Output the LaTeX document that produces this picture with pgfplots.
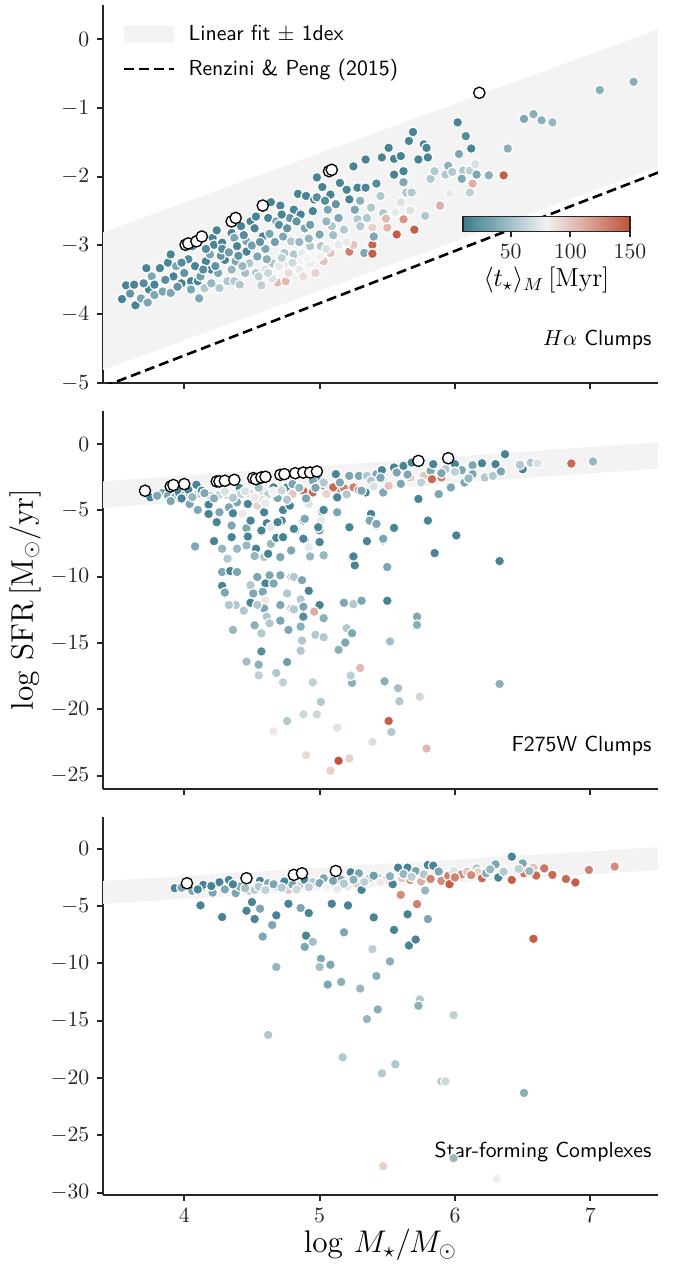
\documentclass[border=0pt]{standalone}
\usepackage{pgfplots}
\pgfplotsset{compat=1.18}
\usetikzlibrary{calc}
\definecolor{axgray}{RGB}{38,38,38}
\definecolor{bandgray}{RGB}{243,243,243}

\tikzset{plabel/.style={anchor=base east, font=\sffamily, inner sep=0pt}}
\pgfplotsset{
  colormap={sbdiv}{rgb255(0cm)=(59,124,142); rgb255(1cm)=(242,242,242); rgb255(2cm)=(193,82,58)},
  panel/.style={
    scale only axis, width=255.3pt, height=174pt,
    xmin=3.4, xmax=7.5,
    axis x line*=bottom, axis y line*=left,
    axis line style={-, line width=0.9pt, draw=axgray},
    tick align=outside, major tick length=2.8pt,
    tick style={line width=0.9pt, draw=axgray},
    tick label style={text=axgray},
    xtick={4,5,6,7},
    colormap name=sbdiv, point meta min=10, point meta max=150,
  },
  pts/.style={scatter, only marks, mark=*, mark size=2.3pt, line width=0.55pt,
    point meta=explicit, scatter/use mapped color={draw=white, fill=mapped color}, forget plot},
  open/.style={only marks, mark=*, mark size=2.6pt,
    mark options={fill=white, draw=black, line width=0.6pt}, forget plot},
  band/.style={fill=bandgray, draw=none},
  bandleg/.style={legend image code/.code={\fill[bandgray] (0pt,-3.9pt) rectangle (23pt,3.9pt);}},
  dashleg/.style={legend image code/.code={\draw[black, line width=1.2pt, dash pattern=on 4.6pt off 2.3pt] (0pt,0pt) -- (23pt,0pt);}},
}

\begin{document}
\begin{tikzpicture}
\useasboundingbox (-47.4pt,-407.6pt) rectangle (263.6pt,176.2pt);

% ---------- panel 1: H-alpha clumps
\begin{axis}[panel,
  ymin=-5, ymax=0.5, ytick={-5,-4,...,0}, xticklabels={},
  legend style={at={(0.035,0.958)}, anchor=north west, draw=none, fill=none,
    font=\sffamily, row sep=3pt, column sep=4pt, inner sep=0pt},
  legend cell align=left,
  colorbar horizontal,
  colorbar style={
    at={(parent axis.south west)}, anchor=north west, xshift=165.6pt, yshift=85.1pt,
    scale only axis, width=76.8pt, height=6.9pt,
    xtick={50,100,150}, xtick pos=bottom,
    tick align=outside, major tick length=2.5pt,
    tick style={line width=0.8pt, draw=axgray},
    axis line style={line width=0.8pt, draw=axgray},
    tick label style={text=axgray},
    xlabel={$\langle t_\star\rangle_M\,[\mathrm{Myr}]$},
    xlabel style={font=\large, yshift=3pt},
  },
]
\addplot[band, bandleg]
  coordinates {(3.4,-2.81) (7.5,0.14) (7.5,-1.86) (3.4,-4.81)} --cycle;
\addlegendentry{Linear fit $\pm$ 1dex}
\addplot[black, line width=1.2pt, dash pattern=on 4.6pt off 2.3pt, dashleg]
  coordinates {(3.4,-5.056) (7.5,-1.94)};
\addlegendentry{Renzini \& Peng (2015)}

\addplot[pts] coordinates {
(3.54,-3.78)[15] (3.57,-3.58)[15] (3.63,-3.57)[15] (3.64,-3.87)[15] (3.68,-3.77)[35]
(3.72,-3.33)[15] (3.73,-3.83)[35] (3.74,-3.64)[15] (3.76,-3.45)[35] (3.78,-3.57)[15]
(3.78,-3.72)[35] (3.82,-3.33)[15] (3.84,-3.67)[35] (3.88,-3.25)[15] (3.90,-3.69)[35]
(3.90,-3.13)[15] (3.92,-3.45)[15] (3.94,-3.30)[35] (3.98,-3.55)[15] (4.06,-3.01)[15]
(4.08,-3.30)[15] (4.05,-3.52)[15] (4.05,-3.64)[35] (4.10,-3.52)[15] (4.11,-3.77)[35]
(4.15,-3.62)[55] (4.16,-3.23)[15] (4.19,-3.13)[35] (4.20,-3.35)[15] (4.21,-2.89)[15]
(4.22,-2.99)[15] (4.24,-2.78)[15] (4.25,-3.40)[35] (4.26,-3.62)[55] (4.28,-2.96)[15]
(4.30,-3.21)[15] (4.32,-3.52)[55] (4.35,-2.82)[15] (4.37,-2.89)[35] (4.39,-3.01)[15]
(4.38,-3.23)[35] (4.37,-3.52)[55] (4.41,-3.57)[55] (4.42,-2.72)[15] (4.46,-2.94)[35]
(4.46,-3.09)[15] (4.48,-3.26)[55] (4.49,-2.65)[15] (4.53,-3.40)[55] (4.54,-3.16)[35]
(4.53,-2.58)[15] (4.58,-2.87)[15] (4.62,-2.60)[15] (4.63,-2.83)[35] (4.64,-2.37)[15]
(4.65,-3.26)[55] (4.68,-2.65)[35] (4.69,-3.54)[105] (4.71,-2.42)[15] (4.73,-2.87)[35]
(4.74,-3.11)[55] (4.75,-3.52)[105] (4.74,-3.28)[75] (4.79,-2.94)[55] (4.81,-2.48)[15]
(4.81,-3.13)[55] (4.84,-2.25)[15] (4.85,-3.35)[75] (4.86,-2.55)[15] (4.87,-3.11)[75]
(4.89,-2.75)[35] (4.90,-2.28)[15] (4.93,-3.01)[55] (4.95,-2.50)[15] (4.96,-2.33)[15]
(4.93,-3.26)[75] (4.98,-2.01)[15] (5.00,-2.84)[35] (5.01,-3.01)[55] (5.02,-2.15)[15]
(5.03,-3.23)[100] (5.06,-2.48)[35] (5.08,-2.26)[15] (5.09,-2.72)[55] (5.08,-3.11)[100]
(5.14,-2.99)[75] (5.15,-2.09)[15] (5.14,-2.60)[35] (5.18,-2.77)[55] (5.20,-2.19)[15]
(5.22,-3.09)[130] (5.22,-2.33)[15] (5.25,-1.85)[15] (5.26,-2.48)[35] (5.28,-2.62)[55]
(5.28,-2.16)[15] (5.25,-2.99)[100] (5.30,-2.72)[55] (5.33,-3.11)[35] (5.34,-1.75)[15]
(5.34,-2.16)[15] (5.35,-2.60)[55] (5.39,-2.99)[140] (5.39,-3.12)[145] (5.39,-2.74)[95]
(5.40,-2.87)[35] (5.45,-2.28)[55] (5.46,-1.72)[15] (5.47,-2.53)[55] (5.50,-2.74)[105]
(5.51,-1.58)[15] (5.55,-1.74)[15] (5.60,-1.70)[15] (5.55,-1.97)[15] (5.62,-1.92)[15]
(5.66,-1.48)[15] (5.69,-1.35)[15] (5.62,-2.08)[35] (5.64,-2.23)[55] (5.68,-2.23)[55]
(5.73,-1.75)[15] (5.77,-1.53)[15] (5.79,-1.58)[15] (5.80,-1.72)[15] (5.82,-2.03)[55]
(5.85,-1.92)[55] (5.93,-1.97)[55] (5.95,-1.84)[40] (5.98,-1.93)[55] (6.02,-1.21)[15]
(6.03,-1.67)[35] (6.08,-1.41)[20] (6.06,-1.91)[55] (6.11,-1.91)[60] (6.15,-1.82)[70]
(6.05,-2.03)[35] (6.16,-1.97)[35] (6.12,-1.59)[15] (6.13,-2.10)[110] (6.11,-2.23)[60]
(5.96,-2.24)[75] (5.89,-2.42)[110] (5.78,-2.57)[55] (5.70,-2.77)[145] (5.57,-2.84)[145]
(5.62,-2.62)[120] (5.67,-2.49)[70] (5.60,-2.37)[70] (5.56,-2.52)[75] (5.49,-2.61)[105]
(6.25,-1.98)[40] (6.36,-1.98)[145] (6.39,-1.59)[40] (6.51,-1.16)[35] (6.58,-1.09)[40]
(6.64,-1.18)[40] (6.72,-1.21)[45] (7.07,-0.74)[40] (7.32,-0.62)[40]
(4.55,-3.45)[60] (4.60,-3.35)[70] (4.66,-3.43)[80] (4.70,-3.30)[75] (4.77,-3.40)[90]
(4.80,-3.25)[65] (4.88,-3.45)[90] (4.91,-3.18)[80] (4.97,-3.40)[95] (5.00,-3.15)[80]
(5.05,-3.05)[70] (4.45,-3.40)[50] (4.35,-3.35)[45] (4.20,-3.55)[45] (4.00,-3.40)[25]
(3.95,-3.60)[25] (4.12,-3.45)[30] (4.27,-3.15)[25] (4.50,-3.00)[30] (4.60,-3.05)[35]
(4.70,-2.70)[20] (4.78,-2.60)[25] (5.10,-2.85)[50] (5.20,-2.95)[85] (5.12,-2.40)[25]
(5.30,-2.35)[40] (5.38,-2.45)[55] (5.42,-2.10)[20] (4.92,-2.90)[45] (5.05,-2.65)[45]
(4.28,-3.05)[20] (4.33,-3.10)[30] (4.40,-3.15)[25] (4.44,-2.85)[20] (4.52,-2.75)[15]
(4.56,-2.95)[25] (4.61,-3.20)[40] (4.67,-2.95)[30] (4.72,-2.55)[15] (4.76,-2.75)[25]
(4.83,-2.65)[25] (4.85,-2.95)[45] (4.93,-2.70)[30] (4.98,-2.30)[20] (5.04,-2.35)[20]
(4.16,-3.05)[20] (4.14,-3.35)[20] (4.03,-3.20)[20] (3.98,-3.25)[20] (3.86,-3.50)[20]
(3.70,-3.55)[20] (3.60,-3.70)[25] (4.23,-3.30)[25] (4.43,-3.30)[45] (4.57,-3.58)[60]
(4.65,-3.48)[70] (4.72,-3.18)[60] (4.62,-3.40)[65]
};
\addplot[open] coordinates {
(4.01,-2.99) (4.03,-2.97) (4.09,-2.94) (4.13,-2.87) (4.35,-2.65) (4.38,-2.60)
(4.58,-2.42) (5.07,-1.92) (5.09,-1.90) (6.18,-0.78)
};
\node[plabel] at (rel axis cs:0.989,0.10) {$H\alpha$ Clumps};
\end{axis}

% ---------- panel 2: F275W clumps
\begin{axis}[panel, at={(0,-186.8pt)},
  ymin=-26, ymax=2.5, ytick={-25,-20,...,0}, xticklabels={},
]
\addplot[band] coordinates {(3.4,-2.81) (7.5,0.14) (7.5,-1.86) (3.4,-4.81)} --cycle;
\addplot[pts] coordinates {
(3.75,-4.02)[15] (3.84,-3.69)[35] (3.88,-3.90)[35] (3.93,-4.02)[35] (3.96,-3.65)[15]
(4.01,-3.77)[35] (4.03,-3.45)[15] (4.09,-3.07)[15] (4.10,-3.77)[55] (4.04,-4.52)[35]
(4.10,-4.97)[35] (4.13,-3.52)[15] (4.19,-3.90)[55] (4.18,-4.57)[15] (4.18,-5.27)[15]
(4.26,-3.82)[60] (4.26,-5.14)[35] (4.24,-5.89)[15] (4.32,-3.85)[60] (4.33,-4.77)[35]
(4.35,-6.14)[35] (4.36,-5.22)[15] (4.41,-3.32)[15] (4.42,-3.77)[60] (4.39,-4.39)[35]
(4.43,-5.27)[85] (4.47,-4.52)[15] (4.49,-3.77)[60] (4.46,-6.34)[35] (4.49,-5.77)[15]
(4.54,-4.64)[95] (4.57,-3.52)[65] (4.62,-3.77)[60] (4.58,-4.22)[90] (4.59,-5.14)[15]
(4.61,-5.97)[15] (4.64,-6.27)[75] (4.66,-3.27)[15] (4.69,-4.07)[35] (4.73,-4.97)[15]
(4.72,-5.77)[15] (4.76,-3.27)[15] (4.80,-3.02)[35] (4.80,-3.77)[100] (4.78,-4.64)[15]
(4.82,-6.47)[15] (4.88,-3.52)[140] (4.92,-4.52)[70] (4.88,-5.77)[35] (4.95,-3.65)[140]
(4.99,-2.77)[15] (5.03,-3.15)[35] (5.02,-5.09)[15] (5.01,-5.77)[75] (5.00,-6.52)[35]
(5.08,-3.40)[110] (5.13,-3.47)[130] (5.18,-3.32)[130] (5.25,-3.27)[130] (5.29,-3.47)[130]
(5.13,-4.02)[15] (5.13,-5.14)[15] (5.12,-2.27)[15] (5.22,-2.40)[35] (5.22,-6.27)[15]
(5.29,-2.40)[35] (5.34,-3.65)[15] (5.35,-2.40)[55] (5.38,-5.27)[15] (5.37,-5.77)[35]
(5.42,-2.27)[35] (5.42,-6.14)[35] (5.47,-7.27)[35] (5.46,-1.97)[15] (5.47,-3.65)[35]
(5.49,-2.90)[75]
(4.95,-2.77)[35] (5.03,-2.90)[55] (5.10,-3.27)[140] (5.31,-3.52)[35] (5.38,-2.77)[55]
(5.51,-3.15)[100] (5.55,-1.77)[15] (5.57,-2.15)[35] (5.62,-1.65)[15] (5.67,-2.52)[100]
(5.68,-1.40)[15] (5.73,-4.14)[15] (5.77,-2.40)[100] (5.82,-2.02)[35] (5.84,-1.52)[15]
(5.83,-2.65)[140] (5.90,-2.52)[130] (5.88,-3.77)[35] (5.93,-1.90)[55] (5.97,-3.27)[35]
(6.00,-1.52)[15] (6.05,-1.97)[35] (6.07,-2.90)[35] (6.13,-1.60)[35] (6.13,-2.27)[35]
(6.20,-1.45)[15] (6.22,-2.52)[55] (6.28,-2.40)[55] (6.30,-1.52)[15] (6.34,-2.07)[35]
(6.37,-0.77)[15] (6.50,-1.90)[15] (6.48,-1.57)[55] (6.56,-1.40)[55] (6.61,-1.45)[70]
(6.86,-1.47)[140] (7.02,-1.32)[45]
(3.80,-3.90)[35] (4.06,-4.00)[45] (4.15,-3.70)[35] (4.22,-4.10)[40] (4.30,-3.60)[70]
(4.36,-4.05)[55] (4.45,-3.55)[70] (4.52,-4.00)[85] (4.55,-3.30)[50] (4.60,-4.45)[75]
(4.66,-3.60)[80] (4.72,-3.50)[65] (4.76,-4.20)[55] (4.85,-3.30)[45] (4.90,-4.10)[35]
(4.97,-3.30)[35] (5.05,-3.75)[95] (5.15,-2.90)[35] (5.20,-3.80)[55] (5.40,-3.20)[70]
(5.45,-2.55)[35] (5.60,-3.00)[35] (5.65,-2.30)[35] (5.75,-2.90)[60] (5.90,-2.20)[35]
(6.10,-2.60)[45] (6.00,-2.10)[60] (3.90,-4.30)[35] (3.98,-4.10)[15]
(5.03,-4.97)[15] (4.89,-5.64)[35] (4.99,-6.27)[15] (5.55,-6.32)[15] (5.80,-5.77)[15]
(6.01,-6.89)[15] (4.89,-7.21)[15] (5.00,-7.39)[15] (4.92,-7.89)[75] (5.35,-7.34)[15]
(5.24,-8.52)[15] (5.26,-9.14)[15] (5.50,-9.31)[15] (5.85,-8.22)[15] (6.33,-8.82)[15]
(4.93,-11.06)[15] (5.00,-12.13)[15] (5.17,-12.01)[55] (5.26,-12.08)[60] (5.31,-11.84)[15]
(5.50,-11.81)[15] (5.72,-13.01)[35] (5.72,-13.63)[40] (4.96,-12.63)[110] (5.03,-13.08)[45]
(5.20,-13.88)[55] (5.24,-14.26)[35] (5.52,-14.88)[50] (5.19,-14.96)[35] (5.14,-15.51)[40]
(5.30,-16.88)[105] (5.22,-17.45)[60] (5.24,-18.00)[40] (5.48,-17.88)[40] (5.58,-18.40)[50]
(5.59,-19.38)[55] (5.74,-19.05)[65] (6.33,-18.08)[40] (5.51,-20.87)[145] (5.53,-21.70)[55]
(5.79,-22.95)[105] (5.39,-22.45)[70] (5.13,-21.37)[72] (5.01,-19.43)[55] (4.88,-20.37)[65]
(4.98,-20.37)[65] (4.90,-23.45)[90] (5.14,-23.87)[150] (5.22,-23.69)[95] (5.08,-24.62)[95]
(4.08,-7.72)[35] (4.22,-7.32)[15] (4.28,-7.89)[45] (4.32,-8.64)[55] (4.35,-7.02)[15]
(4.39,-7.89)[45] (4.28,-9.64)[35] (4.34,-9.57)[15] (4.39,-9.64)[35] (4.28,-10.69)[15]
(4.30,-11.19)[35] (4.46,-7.64)[45] (4.47,-6.97)[15] (4.53,-7.89)[15] (4.52,-8.44)[45]
(4.57,-6.52)[15] (4.59,-8.52)[55] (4.62,-8.27)[15] (4.64,-7.52)[45] (4.68,-7.07)[15]
(4.69,-5.89)[15] (4.73,-7.02)[15] (4.71,-8.52)[35] (4.79,-8.02)[35] (4.81,-6.39)[15]
(4.88,-7.14)[15] (4.92,-7.77)[75] (4.93,-8.47)[45] (5.03,-8.39)[45] (5.13,-5.14)[35]
(5.25,-8.47)[15] (5.35,-7.32)[15] (5.42,-6.02)[35] (5.47,-7.14)[35] (5.50,-9.27)[35]
(4.54,-10.02)[35] (4.63,-9.89)[35] (4.60,-10.51)[15] (4.66,-10.51)[35] (4.71,-9.89)[35]
(4.79,-10.02)[55] (4.81,-10.02)[55] (4.87,-10.26)[35] (4.92,-11.06)[15] (4.86,-11.71)[55]
(4.76,-11.26)[55] (4.49,-10.64)[55] (4.51,-11.26)[35] (4.58,-11.14)[35] (4.60,-11.76)[85]
(4.49,-11.96)[15] (4.71,-12.13)[35] (4.79,-12.39)[55] (4.81,-12.46)[55] (4.88,-12.26)[35]
(4.59,-12.39)[35] (4.38,-12.13)[55] (4.33,-12.13)[55] (4.44,-12.56)[55] (4.54,-12.13)[55]
(5.18,-11.96)[35] (5.25,-12.06)[55] (5.31,-11.81)[35]
(4.36,-14.01)[45] (4.52,-13.66)[40] (4.57,-14.26)[55] (4.57,-15.63)[20] (4.46,-16.40)[50]
(4.55,-16.63)[40] (4.55,-17.43)[60] (4.68,-17.25)[55] (4.73,-17.96)[60] (4.76,-16.43)[30]
(4.61,-13.01)[55] (4.63,-13.51)[55] (4.71,-13.31)[35] (4.77,-14.01)[35] (4.86,-13.76)[40]
(4.87,-14.81)[55] (4.86,-15.58)[55] (4.88,-13.01)[20] (5.03,-13.13)[40] (4.97,-14.38)[55]
(5.03,-14.56)[55] (4.95,-17.96)[60] (5.23,-17.45)[60] (4.76,-20.87)[55] (4.66,-21.65)[85]
};
\addplot[open] coordinates {
(3.71,-3.52) (3.90,-3.20) (3.92,-3.09) (4.00,-3.02) (4.24,-2.82) (4.26,-2.82)
(4.30,-2.77) (4.37,-2.70) (4.51,-2.57) (4.53,-2.65) (4.57,-2.52) (4.60,-2.47)
(4.71,-2.32) (4.74,-2.27) (4.82,-2.20) (4.88,-2.15) (4.93,-2.15) (4.98,-2.07)
(5.73,-1.27) (5.95,-1.07)
};
\node[plabel] at (rel axis cs:0.989,0.10) {F275W Clumps};
\end{axis}

% ---------- panel 3: star-forming complexes
\begin{axis}[panel, at={(0,-373.5pt)},
  ymin=-30.2, ymax=2.8, ytick={-30,-25,...,0},
]
\addplot[band] coordinates {(3.4,-2.81) (7.5,0.14) (7.5,-1.86) (3.4,-4.81)} --cycle;
\addplot[pts] coordinates {
(3.93,-3.44)[15] (4.00,-3.15)[15] (4.06,-3.67)[35] (4.13,-3.38)[35] (4.14,-3.15)[15]
(4.21,-3.82)[35] (4.26,-2.92)[15] (4.33,-2.72)[15] (4.38,-3.87)[35] (4.41,-3.30)[35]
(4.48,-3.67)[55] (4.52,-3.59)[55] (4.56,-2.80)[15] (4.62,-3.01)[35] (4.69,-3.30)[55]
(4.74,-2.86)[15] (4.77,-3.59)[100] (4.85,-3.30)[55] (4.89,-2.72)[15] (4.95,-2.92)[55]
(5.03,-2.57)[35] (5.09,-3.15)[35] (5.13,-3.49)[75] (5.16,-2.72)[35] (5.21,-3.30)[75]
(5.23,-2.05)[15] (5.27,-3.01)[100] (5.29,-2.14)[35] (5.31,-3.59)[15] (5.37,-2.57)[55]
(5.43,-2.51)[55] (5.49,-2.66)[95] (5.54,-3.09)[15] (5.58,-1.65)[15] (5.61,-2.57)[100]
(5.65,-1.65)[15] (5.67,-2.72)[125] (5.71,-1.94)[35] (5.75,-2.86)[110] (5.77,-2.23)[55]
(5.78,-3.64)[45] (5.80,-1.42)[15] (5.84,-1.48)[15] (5.82,-2.63)[130] (5.88,-1.99)[35]
(5.90,-2.80)[125] (5.95,-2.37)[130] (5.96,-3.09)[145] (5.99,-1.94)[70] (6.05,-2.23)[125]
(6.09,-2.00)[100] (6.16,-1.71)[55] (6.17,-2.05)[95] (6.20,-2.57)[140] (6.23,-2.14)[40]
(6.30,-1.36)[35] (6.32,-2.51)[15] (6.42,-0.69)[15] (6.42,-2.72)[145] (6.50,-1.27)[35]
(6.51,-2.14)[135] (6.58,-1.65)[100] (6.60,-2.34)[140] (6.66,-1.71)[135] (6.72,-2.28)[140]
(6.82,-2.63)[140] (6.89,-2.94)[145] (6.99,-1.85)[130] (7.18,-1.55)[125] (6.58,-7.86)[145]
(5.60,-4.02)[125] (5.72,-4.83)[130]
(3.98,-3.40)[35] (4.10,-3.55)[15] (4.20,-3.25)[15] (4.30,-3.55)[35] (4.36,-3.10)[15]
(4.45,-3.45)[50] (4.55,-3.30)[55] (4.60,-3.60)[60] (4.66,-3.10)[35] (4.72,-3.40)[55]
(4.80,-3.15)[35] (4.83,-3.55)[65] (4.92,-3.35)[60] (5.00,-3.00)[35] (5.05,-3.40)[80]
(5.10,-2.80)[35] (5.18,-3.05)[55] (5.25,-2.70)[40] (5.33,-2.90)[60] (5.40,-2.35)[30]
(5.45,-2.95)[85] (5.52,-2.40)[40] (5.62,-2.20)[45] (5.68,-2.45)[60] (6.00,-2.50)[130]
(6.12,-2.30)[125] (6.26,-1.80)[45] (6.36,-2.00)[55] (6.47,-1.75)[60] (6.55,-1.95)[45]
(4.12,-4.94)[15] (4.28,-5.96)[15] (4.46,-5.41)[15] (4.50,-4.65)[15] (4.52,-6.13)[15]
(4.56,-5.23)[35] (4.58,-7.66)[35] (4.65,-6.65)[35] (4.68,-5.81)[15] (4.68,-10.32)[45]
(4.77,-4.80)[15] (4.86,-5.17)[35] (4.92,-5.61)[15] (4.90,-7.58)[15] (4.89,-8.56)[35]
(4.95,-8.12)[50] (5.01,-9.60)[35] (5.00,-10.32)[50] (5.08,-10.12)[35] (5.06,-11.85)[35]
(5.09,-4.80)[15] (5.16,-11.62)[40] (5.18,-7.29)[35] (5.21,-4.94)[15] (5.30,-12.20)[45]
(5.35,-14.86)[45] (5.43,-14.02)[40] (5.40,-5.99)[15] (5.39,-8.76)[60] (5.42,-11.10)[40]
(5.52,-9.83)[40] (5.55,-7.08)[15] (5.65,-5.72)[15] (5.66,-8.44)[15] (5.71,-7.92)[15]
(5.74,-13.15)[55] (5.73,-13.70)[40] (5.80,-6.13)[35] (5.99,-14.51)[60] (4.62,-16.24)[55]
(5.17,-18.2)[55] (5.56,-18.8)[55] (5.46,-19.6)[55] (5.90,-20.3)[55] (5.93,-20.3)[65]
(6.51,-21.3)[40] (5.99,-27.0)[45] (5.47,-27.7)[95] (6.31,-28.8)[78]
};
\addplot[open] coordinates {
(4.02,-3.01) (4.46,-2.57) (4.81,-2.28) (4.87,-2.14) (5.12,-1.94)
};
\node[plabel] at (rel axis cs:0.989,0.10) {Star-forming Complexes};
\end{axis}

\node[rotate=90, font=\Large] at (-35.9pt,-99.6pt) {$\log\,\mathrm{SFR}\,[\mathrm{M}_\odot/\mathrm{yr}]$};
\node[font=\Large] at (127.6pt,-396.5pt) {$\log\,M_\star/M_\odot$};
\end{tikzpicture}
\end{document}
